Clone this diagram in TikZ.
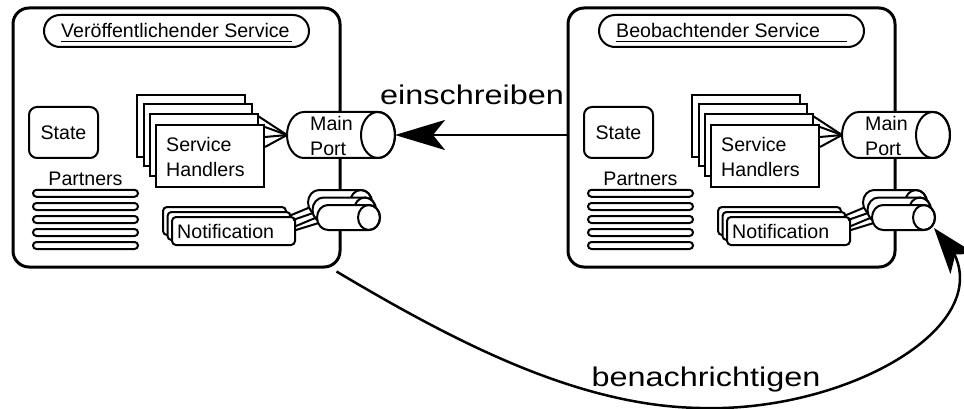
\documentclass[tikz,border=0pt]{standalone}
\usepackage{fontspec}
\setmainfont{Liberation Sans}
\usetikzlibrary{arrows.meta, bending}

\tikzset{
  outerbox/.style={draw, line width=3pt, rounded corners=16pt, fill=white, inner sep=0pt},
  pill/.style={draw, line width=2pt, rounded corners=16pt, inner sep=0pt},
  statebox/.style={draw, line width=2pt, rounded corners=8pt, inner sep=0pt,
    minimum width=69pt, minimum height=51pt, font=\fontsize{19.6}{23}\selectfont},
  handlerbox/.style={draw, line width=2pt, fill=white, inner sep=0pt,
    minimum width=108pt, minimum height=62pt},
  notifbox/.style={draw, line width=2pt, fill=white, rounded corners=4pt, inner sep=0pt,
    minimum width=123pt, minimum height=28pt},
  partnerrow/.style={draw, line width=2pt, rounded corners=3.5pt, inner sep=0pt,
    minimum width=105pt, minimum height=7pt},
  small/.style={inner sep=0pt, font=\fontsize{19.6}{24.5}\selectfont},
  big/.style={inner sep=0pt, font=\fontsize{27}{32}\selectfont},
  wire/.style={line width=2pt},
}

% horizontal cylinder: #1 name, #2 left x, #3 face centre x, #4 centre y, #5 x radius, #6 y radius
\newcommand\drawport[6]{%
  \filldraw[line width=2pt, fill=white]
    (#3,{#4-#6}) -- ({#2+#5},{#4-#6})
    arc[start angle=-90, end angle=-270, x radius=#5, y radius=#6]
    -- (#3,{#4+#6})
    arc[start angle=90, end angle=-90, x radius=#5, y radius=#6] -- cycle;
  \draw[line width=2pt] (#3,#4) ellipse [x radius=#5, y radius=#6];
  \coordinate (#1-w) at (#2,#4);
  \coordinate (#1-e) at ({#3+#5},#4);
}

% one service: #1 name prefix, #2 title
\newcommand\serviceunit[2]{%
  \node[outerbox, minimum width=327pt, minimum height=259pt] (#1-box) at (176.5,137.5) {};
  \node[pill, minimum width=265pt, minimum height=32pt] (#1-pill) at (176.5,31) {};
  \node[small, anchor=base west] (#1-title) at (61,38) {#2};
  \draw[line width=1.2pt] ([yshift=-3.5pt]#1-title.base west) -- ++(231,0);
  % state and partners
  \node[statebox] (#1-state) at (63.5,132.5) {State};
  \node[small] (#1-partners) at (85.5,179) {Partners};
  \foreach \yy [count=\ii] in {193.3,206.5,219.5,232.5,245.5}
    \node[partnerrow] (#1-p\ii) at (85.5,\yy) {};
  % service handlers
  \node[handlerbox] (#1-h1) at (191,126) {};
  \node[handlerbox] (#1-h2) at (197.5,135) {};
  \node[handlerbox] (#1-h3) at (204,145) {};
  \node[handlerbox] (#1-h4) at (210,156) {};
  \node[small, anchor=west, align=left] (#1-htext) at (166,157) {Service\\Handlers};
  % main port
  \drawport{#1-main}{287}{378}{135}{17}{23}
  \draw[wire] ([shift={(-1,3)}]#1-h3.north east) -- (#1-main-w);
  \draw[wire] ([shift={(0,3)}]#1-h4.north east) -- (#1-main-w);
  \draw[wire] ([shift={(0,13)}]#1-h4.north east) -- (#1-main-w);
  \draw[wire] ([shift={(0,23)}]#1-h4.north east) -- (#1-main-w);
  \node[small, anchor=west, align=left] (#1-mtext) at (310,136) {Main\\Port};
  % notifications
  \node[notifbox] (#1-nb1) at (224.5,221) {};
  \node[notifbox] (#1-nb2) at (229,226) {};
  \node[notifbox] (#1-nb3) at (233.5,231) {};
  \node[small, anchor=west] (#1-ntext) at (177,231.5) {Notification};
  \coordinate (#1-n2w) at (312.5,210);
  \coordinate (#1-n3w) at (317,217.5);
  \draw[wire] ([shift={(-2.5,5)}]#1-nb2.north east) -- ([shift={(0.5,-4)}]#1-n2w);
  \draw[wire] ([shift={(1.5,9)}]#1-nb2.north east) -- ([shift={(3.5,2)}]#1-n2w);
  \draw[wire] ([shift={(0,10)}]#1-nb3.north east) -- ([shift={(3,-1.5)}]#1-n3w);
  \draw[wire] ([shift={(0,14)}]#1-nb3.north east) -- ([shift={(5,4.5)}]#1-n3w);
  \drawport{#1-n1}{308}{361}{202.5}{11}{12.5}
  \drawport{#1-n2}{312.5}{365}{210}{11}{12.5}
  \drawport{#1-n3}{317}{369}{217.5}{11}{12.5}
}

\begin{document}
\begin{tikzpicture}[x=1pt, y=-1pt]
  \useasboundingbox (0,0) rectangle (964,409);

  \serviceunit{l}{Veröffentlichender Service}
  \begin{scope}[xshift=555pt]
    \serviceunit{r}{Beobachtender Service}
  \end{scope}

  % subscription request
  \draw[line width=2.5pt, -{Stealth[length=50pt, width=30pt, inset=12pt]}]
    (r-box.west |- l-main-e) -- (l-main-e);
  \node[big, anchor=base] (subscribe) at (472,104.5) {\scalebox{1.2}[1]{einschreiben}};

  % notification back to the observer
  \coordinate (notifytarget) at ([shift={(-1,10.5)}]r-n3-e);
  \draw[line width=2.5pt, -{Stealth[flex, length=46pt, width=32pt, inset=12pt]}]
    ([shift={(-5,3)}]l-box.south east)
      .. controls (460,345) and (580,406) .. (700,408)
      .. controls (860,413) and (1025,310) .. (notifytarget);
  \node[big, anchor=base] (notify) at (706,386) {\scalebox{1.2}[1]{benachrichtigen}};
\end{tikzpicture}
\end{document}
